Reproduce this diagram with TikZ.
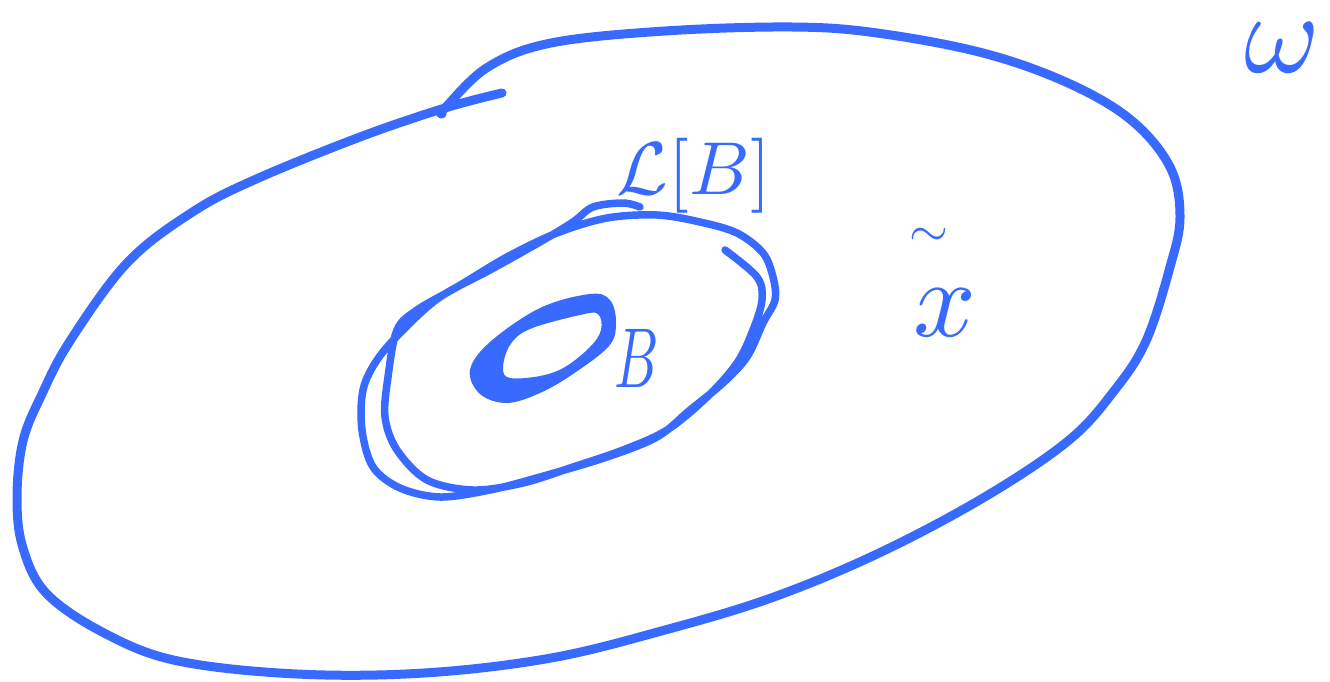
\documentclass[tikz,border=0pt]{standalone}
\begin{document}
\begin{tikzpicture}[x=1pt,y=-1pt,
  ink/.style={draw=inkblue,line width=9pt,line cap=round,line join=round},
  thinink/.style={draw=inkblue,line width=7.5pt,line cap=round,line join=round},
  lbl/.style={text=inkblue,inner sep=0pt}]
\definecolor{inkblue}{RGB}{56,106,255}
\useasboundingbox (0,0) rectangle (1330,682);
% outer region
\draw[ink] plot[smooth,tension=0.6] coordinates {(502,93) (445,108) (360,137) (254,180) (191,213) (127,263) (70,341) (42,394) (23,441) (17,498) (23,548) (47,594) (106,634) (178,661) (297,674) (424,673) (551,658) (665,630) (771,598) (877,554) (983,498) (1068,441) (1114,391) (1146,341) (1170,267) (1180,217) (1170,167) (1131,120) (1068,83) (983,53) (877,33) (792,27) (665,31) (551,43) (488,67) (445,108) (442,114)};
% closure outline (double loop)
\draw[thinink] plot[smooth,tension=0.55] coordinates {(725,250) (757,277) (762,300) (753,330) (737,363) (707,397) (667,430) (623,450) (573,467) (523,483) (473,490) (427,480) (397,450) (385,417) (388,377) (397,330) (417,310) (457,287) (507,257) (557,233) (607,218) (657,215) (700,222) (737,233) (763,253) (773,277) (775,300) (763,323) (747,357) (723,383) (690,410) (657,437) (607,457) (540,477) (490,490) (440,497) (400,488) (373,467) (362,430) (363,390) (377,360) (403,330) (440,297) (490,270) (540,242) (573,222) (593,207) (623,203) (640,207)};
% inner set B (thick ring)
\fill[inkblue,even odd rule]
  plot[smooth cycle,tension=0.6] coordinates {(470,370) (490,342) (540,308) (590,294) (610,300) (616,323) (609,346) (573,374) (540,393) (507,403) (480,394)}
  plot[smooth cycle,tension=0.6] coordinates {(503,368) (510,345) (530,329) (580,315) (598,314) (601,330) (590,347) (565,367) (540,376) (510,378)};
% labels
\node[lbl,scale=7.5] (clB) at (694,176) {$\mathcal{L}[B]$};
\node[lbl,xscale=5.5,yscale=8.5] (B) at (637,358) {$B$};
\node[lbl,scale=11] (x) at (945,313) {$x$};
\node[lbl,scale=5] (xt) at (929,237) {$\sim$};
\node[lbl,scale=11.5] (w) at (1282,48) {$\omega$};
\end{tikzpicture}
\end{document}
